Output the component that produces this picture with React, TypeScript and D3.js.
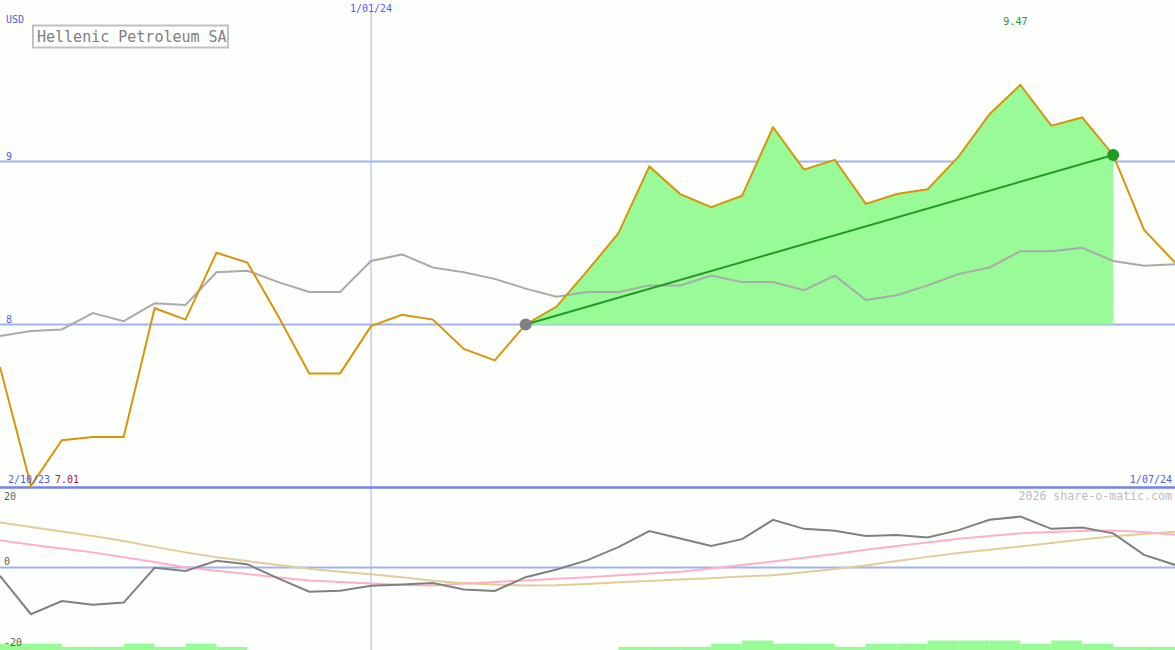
import React, { useEffect } from 'react';
import * as d3 from 'd3';

// weekly closes (Mondays), 9/10/23 .. 1/07/24
const startDate = new Date(2023, 9, 9);
const endDate = new Date(2024, 6, 1);
const dates = d3.timeMonday.every(1)!.range(startDate, d3.timeDay.offset(endDate, 1));

const price = [
  7.74, 7.01, 7.29, 7.31, 7.31, 8.1, 8.03, 8.44, 8.38, 8.05, 7.7, 7.7, 7.99,
  8.06, 8.03, 7.85, 7.78, 8.0, 8.11, 8.33, 8.56, 8.97, 8.8, 8.72, 8.79, 9.21,
  8.95, 9.01, 8.74, 8.8, 8.83, 9.03, 9.29, 9.47, 9.22, 9.27, 9.04, 8.58, 8.38,
];
const average = [
  7.93, 7.96, 7.97, 8.07, 8.02, 8.13, 8.12, 8.32, 8.33, 8.26, 8.2, 8.2, 8.39,
  8.43, 8.35, 8.32, 8.28, 8.22, 8.17, 8.2, 8.2, 8.24, 8.24, 8.3, 8.26, 8.26,
  8.21, 8.3, 8.15, 8.18, 8.24, 8.31, 8.35, 8.45, 8.45, 8.47, 8.39, 8.36, 8.37,
];
const momentum = [
  -2.6, -14.5, -10.4, -11.6, -10.9, -0.1, -1.1, 2.1, 1.0, -3.4, -7.5, -7.2,
  -5.7, -5.3, -4.8, -6.8, -7.3, -3.0, -0.6, 2.3, 6.3, 11.3, 9.0, 6.7, 8.8,
  14.8, 12.0, 11.4, 9.8, 10.1, 9.3, 11.6, 14.8, 15.8, 12.0, 12.4, 10.6, 3.9,
  0.8,
];
const signalFast = [
  8.5, 7.1, 5.9, 4.7, 3.2, 1.7, 0.1, -1.0, -2.0, -3.1, -4.0, -4.5, -5.0, -5.4,
  -5.6, -5.0, -4.5, -4.0, -3.5, -3.0, -2.4, -1.9, -1.3, -0.3, 0.8, 1.9, 3.0,
  4.2, 5.5, 6.7, 7.8, 8.9, 9.8, 10.6, 11.0, 11.3, 11.5, 11.0, 10.2,
];
const signalSlow = [
  14.0, 12.6, 11.2, 9.8, 8.2, 6.4, 4.7, 3.2, 2.0, 0.8, -0.4, -1.3, -2.1, -3.0,
  -4.1, -4.9, -5.3, -5.6, -5.5, -5.1, -4.6, -4.2, -3.7, -3.3, -2.8, -2.4,
  -1.5, -0.5, 0.6, 2.0, 3.3, 4.5, 5.5, 6.5, 7.6, 8.7, 9.7, 10.4, 11.1,
];
// volume level for each week interval
const volume = [
  2, 2, 1, 1, 2, 1, 2, 1, 0, 0, 0, 0, 0, 0, 0, 0, 0, 0, 0, 0, 1, 1, 1, 2, 3,
  2, 2, 1, 2, 2, 3, 3, 3, 2, 3, 2, 1, 1,
];

const priceTicks = [8, 9];
const momentumTicks = [20, 0, -20];
const trendStart = 17;
const trendEnd = 36;
const markerDate = new Date(2024, 0, 1);

const W = 1175;
const H = 650;
const FONT = '"DejaVu Sans Mono", monospace';
const fmt = d3.timeFormat('%-d/%m/%y');

export default function App() {
  useEffect(() => {
    document.body.style.margin = '0';
  }, []);

  const x = d3.scaleTime().domain([startDate, endDate]).range([0, W]);
  const y = d3.scaleLinear().domain([7, 10]).range([487.5, -1.5]);
  const y2 = d3.scaleLinear().domain([-25, 25]).range([648, 487]);
  const yVol = d3.scaleLinear().domain([0, 3]).range([H, H - 9.5]);

  const line = d3
    .line<number>()
    .x((_, i) => x(dates[i]))
    .y((d) => y(d));
  const line2 = d3
    .line<number>()
    .x((_, i) => x(dates[i]))
    .y((d) => y2(d));

  const base = price[trendStart];
  const fillIdx = d3.range(trendStart, trendEnd + 1);
  const area = d3
    .area<number>()
    .x((i) => x(dates[i]))
    .y0(y(base))
    .y1((i) => y(price[i]));

  const minIdx = d3.minIndex(price);
  const maxIdx = d3.maxIndex(price);

  return (
    <svg width={W} height={H} style={{ position: 'absolute', left: 0, top: 0, display: 'block' }} fontFamily={FONT}>
      <rect width={W} height={H} fill="#fdfffd" />

      {/* volume */}
      {volume.map((v, i) =>
        v > 0 ? (
          <rect key={i} x={x(dates[i])} width={x(dates[i + 1]) - x(dates[i])} y={yVol(v)} height={H - yVol(v)} fill="#98fb98" />
        ) : null
      )}

      {/* grid */}
      {priceTicks.map((t) => (
        <g key={t}>
          <line x1={0} x2={W} y1={y(t)} y2={y(t)} stroke="#a4b2f4" strokeWidth={2} />
          <text x={6} y={y(t) - 2} fontSize={10} fill="#4a5ef0">{t}</text>
        </g>
      ))}
      <line x1={x(markerDate)} x2={x(markerDate)} y1={12} y2={H} stroke="#a4b2f4" strokeWidth={1} />
      <text x={x(markerDate)} y={12} fontSize={10} fill="#4a5ef0" textAnchor="middle">{fmt(markerDate)}</text>
      <line x1={0} x2={W} y1={y2(0)} y2={y2(0)} stroke="#a4b2f4" strokeWidth={2} />
      <line x1={0} x2={W} y1={487.5} y2={487.5} stroke="#7282e6" strokeWidth={2.5} />

      {/* price panel */}
      <path d={area(fillIdx)!} fill="#98fb98" />
      <path d={line(average)!} fill="none" stroke="#aaaaaa" strokeWidth={2} />
      <path d={line(price)!} fill="none" stroke="#d8950a" strokeWidth={2} />
      <line
        x1={x(dates[trendStart])}
        y1={y(price[trendStart])}
        x2={x(dates[trendEnd])}
        y2={y(price[trendEnd])}
        stroke="#229922"
        strokeWidth={2}
      />
      <circle cx={x(dates[trendStart])} cy={y(price[trendStart])} r={6} fill="#808080" />
      <circle cx={x(dates[trendEnd])} cy={y(price[trendEnd])} r={6} fill="#229922" />

      {/* momentum panel */}
      <path d={line2(signalSlow)!} fill="none" stroke="#e2cc98" strokeWidth={2} />
      <path d={line2(signalFast)!} fill="none" stroke="#ffb0c8" strokeWidth={2} />
      <path d={line2(momentum)!} fill="none" stroke="#808080" strokeWidth={2} />
      {momentumTicks.map((t) => (
        <text key={t} x={4} y={t < 0 ? y2(t) + 14 : y2(t) - 3} fontSize={10} fill="#606060">{t}</text>
      ))}

      {/* labels */}
      <text x={6} y={23} fontSize={10} fill="#4a5ef0">USD</text>
      <rect x={33} y={25.5} width={195} height={22} fill="#fdfffd" stroke="#c0c0c0" strokeWidth={2} />
      <text x={37} y={41.5} fontSize={15} fill="#808080">Hellenic Petroleum SA</text>
      <text x={x(dates[maxIdx]) - 5} y={25} fontSize={10} fill="#229922" textAnchor="middle">
        {price[maxIdx].toFixed(2)}
      </text>
      <text x={8} y={483} fontSize={10} fill="#4a5ef0">{fmt(d3.timeMonday.offset(startDate, -1))}</text>
      <text x={55} y={483} fontSize={10} fill="#aa2222">{price[minIdx].toFixed(2)}</text>
      <text x={W - 3} y={483} fontSize={10} fill="#4a5ef0" textAnchor="end">{fmt(endDate)}</text>
      <text x={W - 3} y={500} fontSize={11.6} fill="#bdbdbd" textAnchor="end">2026 share-o-matic.com</text>
    </svg>
  );
}
